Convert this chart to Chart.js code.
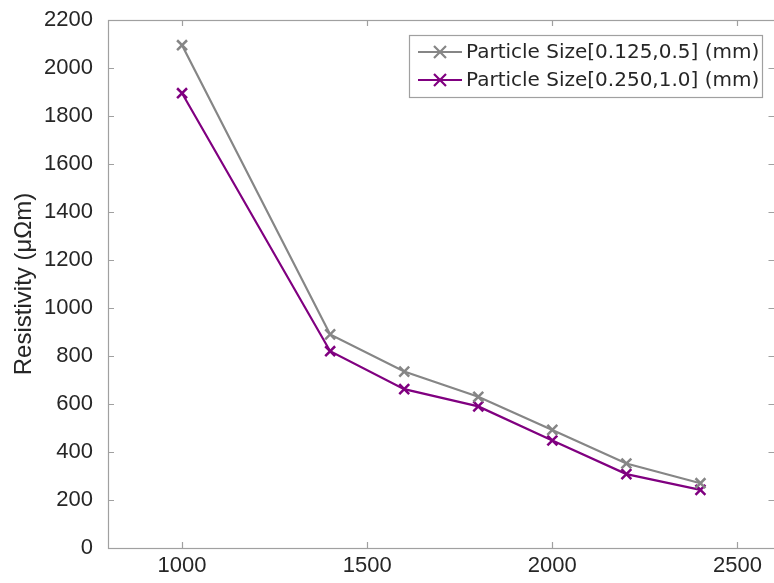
<!DOCTYPE html>
<html>
<head>
<meta charset="utf-8">
<script src="https://cdn.jsdelivr.net/npm/chart.js@4.4.1/dist/chart.umd.min.js"></script>
<style>
  html, body { margin: 0; padding: 0; background: #fff; overflow: hidden; }
  #wrap { width: 784px; height: 583px; }
</style>
</head>
<body>
<div id="wrap"><canvas id="c" width="784" height="583"></canvas></div>
<script>
const temperatures = [1000, 1400, 1600, 1800, 2000, 2200, 2400];
const resistivitySmall = [2095, 890, 735, 630, 492, 352, 270];
const resistivityLarge = [1895, 820, 662, 590, 448, 308, 242];
const seriesLabels = ['Particle Size[0.125,0.5] (mm)', 'Particle Size[0.250,1.0] (mm)'];
const xTicks = [1000, 1500, 2000, 2500];
const yTicks = [0, 200, 400, 600, 800, 1000, 1200, 1400, 1600, 1800, 2000, 2200];
const yTitle = 'Resistivity (\u03bc\u03a9m)';

const colors = ['#868686', '#800080'];
const frameColor = '#a0a0a0';
const textColor = '#262626';

const toPoints = (xs, ys) => xs.map((x, i) => ({ x: x, y: ys[i] }));

const frameTicks = {
  id: 'frameTicks',
  afterDraw(chart) {
    const { ctx, chartArea: a, scales } = chart;
    ctx.save();
    ctx.strokeStyle = frameColor;
    ctx.lineWidth = 1.2;
    ctx.strokeRect(a.left + 0.5, a.top + 0.5, a.right - a.left, a.bottom - a.top);
    const L = 6;
    ctx.beginPath();
    xTicks.forEach(v => {
      const px = Math.round(scales.x.getPixelForValue(v)) + 0.5;
      ctx.moveTo(px, a.bottom); ctx.lineTo(px, a.bottom - L);
      ctx.moveTo(px, a.top); ctx.lineTo(px, a.top + L);
    });
    yTicks.forEach(v => {
      const py = Math.round(scales.y.getPixelForValue(v)) + 0.5;
      ctx.moveTo(a.left, py); ctx.lineTo(a.left + L, py);
      ctx.moveTo(a.right, py); ctx.lineTo(a.right - L, py);
    });
    ctx.stroke();

    // legend box inside plot
    const bx = 409, by = 35, bw = 353, bh = 62;
    ctx.fillStyle = '#ffffff';
    ctx.fillRect(bx, by, bw, bh);
    ctx.strokeStyle = frameColor;
    ctx.lineWidth = 1.2;
    ctx.strokeRect(bx + 0.5, by + 0.5, bw, bh);
    chart.data.datasets.forEach((ds, i) => {
      const y = 52 + i * 28;
      ctx.strokeStyle = ds.borderColor;
      ctx.lineWidth = 2.2;
      ctx.beginPath();
      ctx.moveTo(418, y); ctx.lineTo(462, y);
      const cx = 440, r = 6;
      ctx.moveTo(cx - r, y - r); ctx.lineTo(cx + r, y + r);
      ctx.moveTo(cx + r, y - r); ctx.lineTo(cx - r, y + r);
      ctx.stroke();
      ctx.fillStyle = textColor;
      ctx.font = '20px "DejaVu Sans"';
      ctx.textBaseline = 'middle';
      ctx.textAlign = 'left';
      ctx.fillText(ds.label, 466, y + 1);
    });
    ctx.restore();
  }
};

new Chart(document.getElementById('c'), {
  type: 'line',
  data: {
    datasets: [
      {
        label: seriesLabels[0],
        data: toPoints(temperatures, resistivitySmall),
        borderColor: colors[0],
        backgroundColor: colors[0],
        borderWidth: 2.2,
        pointStyle: 'crossRot',
        pointRadius: 7,
        pointBorderWidth: 2.5,
        tension: 0
      },
      {
        label: seriesLabels[1],
        data: toPoints(temperatures, resistivityLarge),
        borderColor: colors[1],
        backgroundColor: colors[1],
        borderWidth: 2.2,
        pointStyle: 'crossRot',
        pointRadius: 7,
        pointBorderWidth: 2.5,
        tension: 0
      }
    ]
  },
  options: {
    responsive: false,
    animation: false,
    layout: { padding: { top: 20, right: 2, left: 0, bottom: 0 } },
    plugins: { legend: { display: false }, tooltip: { enabled: false } },
    scales: {
      x: {
        type: 'linear',
        min: 800,
        max: 2600,
        afterBuildTicks(s) { s.ticks = xTicks.map(v => ({ value: v })); },
        afterFit(s) { s.height = 35; s.paddingLeft = 0; s.paddingRight = 0; },
        grid: { display: false, drawTicks: false },
        border: { display: false },
        ticks: {
          color: textColor,
          font: { family: '"Liberation Sans", Arial', size: 22 },
          padding: 5,
          maxRotation: 0,
          callback: v => String(v)
        }
      },
      y: {
        min: 0,
        max: 2200,
        afterBuildTicks(s) { s.ticks = yTicks.map(v => ({ value: v })); },
        afterFit(s) { s.width = 108; s.paddingTop = 0; s.paddingBottom = 0; },
        grid: { display: false, drawTicks: false },
        border: { display: false },
        ticks: {
          color: textColor,
          font: { family: '"Liberation Sans", Arial', size: 22 },
          padding: 15,
          callback: v => String(v)
        },
        title: {
          display: true,
          text: yTitle,
          color: textColor,
          font: { family: '"Liberation Sans", Arial', size: 24 },
          padding: { top: 10, bottom: 0 }
        }
      }
    }
  },
  plugins: [frameTicks]
});
</script>
</body>
</html>
